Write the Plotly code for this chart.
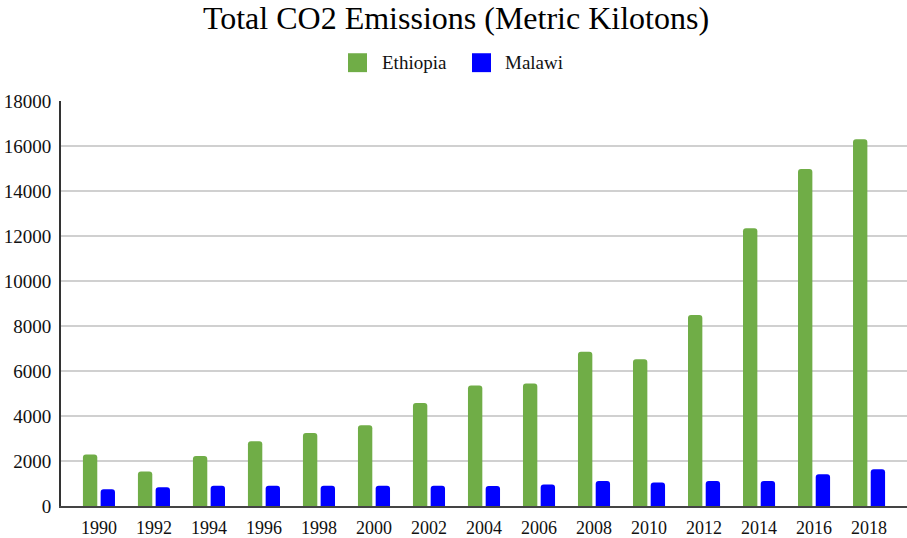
import plotly.graph_objects as go

# Annual CO2 emissions, metric kilotons
years = ["1990", "1992", "1994", "1996", "1998", "2000", "2002", "2004",
         "2006", "2008", "2010", "2012", "2014", "2016", "2018"]
ethiopia = [2290, 1530, 2220, 2880, 3240, 3590, 4580, 5360,
            5450, 6860, 6520, 8490, 12350, 14980, 16300]
malawi = [740, 830, 900, 900, 900, 900, 900, 890,
          960, 1110, 1040, 1110, 1110, 1410, 1630]

series_names = ["Ethiopia", "Malawi"]
series_colors = ["#70AD47", "#0000FF"]
y_ticks = list(range(0, 18001, 2000))

FONT = "Liberation Serif, Times New Roman, serif"

fig = go.Figure()
for name, vals, color in zip(series_names, [ethiopia, malawi], series_colors):
    fig.add_trace(go.Bar(
        x=years, y=vals, name=name,
        marker=dict(color=color, cornerradius=3, line=dict(width=0)),
        showlegend=False,
    ))

# Legend drawn as swatches + labels above the plot
legend_items = [
    (348, 367, 380),   # swatch x0, x1, text x (pixels)
    (472, 491, 503),
]
W, H = 907, 538
shapes, annotations = [], []
for (x0, x1, tx), name, color in zip(legend_items, series_names, series_colors):
    shapes.append(dict(
        type="rect", xref="paper", yref="paper",
        x0=(x0 - 61) / (W - 61), x1=(x1 - 61) / (W - 61),
        y0=(508 - 53) / 407, y1=(508 - 72) / 407,
        fillcolor=color, line=dict(width=0), layer="above",
    ))
    annotations.append(dict(
        text=name, xref="paper", yref="paper",
        x=(tx - 61) / (W - 61), y=(508 - 62) / 407,
        xanchor="left", yanchor="middle", showarrow=False,
        font=dict(family=FONT, size=19, color="#111"),
    ))

fig.update_layout(
    width=W, height=H,
    margin=dict(l=61, r=0, t=101, b=30),
    paper_bgcolor="white", plot_bgcolor="white",
    title=dict(
        text="Total CO2 Emissions (Metric Kilotons)",
        x=456 / W, xanchor="center", xref="container",
        y=1 - 18 / H, yanchor="middle", yref="container",
        font=dict(family=FONT, size=32, color="#000"),
    ),
    barmode="group", bargap=0.356, bargroupgap=0.19,
    shapes=shapes, annotations=annotations,
    font=dict(family=FONT, size=18, color="#111"),
)
fig.update_xaxes(
    type="category", range=[-0.69, 14.69],
    showline=True, linecolor="#444", linewidth=2,
    showgrid=False, ticks="outside", ticklen=4, tickcolor="rgba(0,0,0,0)",
    tickfont=dict(family=FONT, size=18, color="#111"),
)
fig.update_yaxes(
    range=[0, 18000], tickvals=y_ticks, tickformat="d",
    showline=True, linecolor="#333", linewidth=2,
    showgrid=True, gridcolor="#d0d0d0", gridwidth=1.5,
    zeroline=False, ticklabelstandoff=4,
    tickfont=dict(family=FONT, size=19, color="#111"),
)

fig.write_html("out.html")
